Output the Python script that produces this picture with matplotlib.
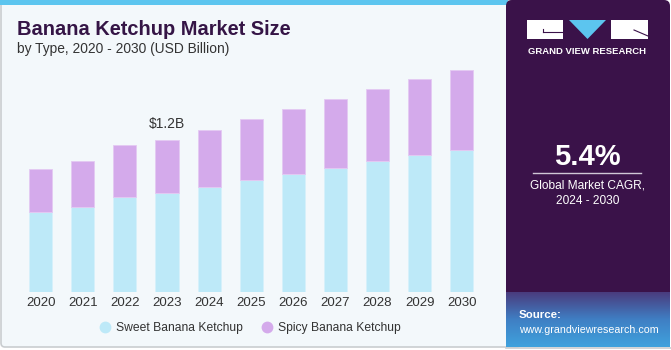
import matplotlib.pyplot as plt
import matplotlib.patches as patches
from matplotlib.lines import Line2D
from matplotlib.colors import LinearSegmentedColormap
import numpy as np

plt.rcParams['font.family'] = ['Liberation Sans', 'DejaVu Sans']

# Data (USD Billion)
years = ["2020", "2021", "2022", "2023", "2024", "2025", "2026", "2027", "2028", "2029", "2030"]
sweet = [0.63, 0.67, 0.75, 0.78, 0.83, 0.88, 0.93, 0.98, 1.03, 1.08, 1.12]
spicy = [0.34, 0.36, 0.41, 0.42, 0.45, 0.48, 0.51, 0.54, 0.57, 0.60, 0.63]
series_names = ["Sweet Banana Ketchup", "Spicy Banana Ketchup"]
series_colors = ["#bde9f8", "#d4aaeb"]
callout_year = "2023"
callout_text = "$1.2B"

W, H = 671, 350
fig = plt.figure(figsize=(W / 100, H / 100), dpi=100)
fig.patch.set_facecolor("white")

# background layer in pixel coordinates
bg = fig.add_axes([0, 0, 1, 1], zorder=0)
bg.set_xlim(0, W)
bg.set_ylim(H, 0)
bg.axis("off")

# left panel
bg.add_patch(patches.FancyBboxPatch((1, 1), 520, 346, boxstyle="round,pad=0,rounding_size=4",
                                    facecolor="#f3f8fb", edgecolor="#c9cdd0", linewidth=1.2))
bg.add_patch(patches.Rectangle((0, 0), 508, 5, facecolor="#5cc5ef", edgecolor="none"))

# right panel
bg.add_patch(patches.FancyBboxPatch((506, 0), 164, 300, boxstyle="round,pad=0,rounding_size=6",
                                    facecolor="#3a1249", edgecolor="none"))
grad = np.linspace(0, 1, 100).reshape(-1, 1)
cmap = LinearSegmentedColormap.from_list("src", ["#4a3c7e", "#3f7fc4", "#3fa2dd"])
bg.imshow(grad, cmap=cmap, aspect="auto", extent=[506, 670, 347, 292], zorder=2)
bg.plot([506, 671], [348, 348], color="#c9cdd0", lw=1.2, zorder=3)

# logo
bg.add_patch(patches.Rectangle((527, 20), 36, 19, facecolor="white", edgecolor="none", zorder=3))
bg.plot([543, 563], [32, 32], color="#3a1249", lw=0.8, zorder=4)
bg.plot([543, 543], [29, 32], color="#3a1249", lw=0.8, zorder=4)
bg.add_patch(patches.Polygon([[569, 20], [606, 20], [587.5, 39]], facecolor="#5cc5ef", edgecolor="none", zorder=3))
bg.add_patch(patches.Rectangle((611, 20), 37, 19, facecolor="white", edgecolor="none", zorder=3))
bg.plot([634, 648], [30, 36], color="#3a1249", lw=0.8, zorder=4)
bg.text(587.5, 51, "GRAND VIEW RESEARCH", color="white", fontsize=6.8, fontweight="bold",
        ha="center", va="center", zorder=4)

# CAGR block
bg.text(587.5, 165, "5.4%", color="white", fontsize=21, fontweight="bold", ha="center", va="baseline", zorder=4)
bg.plot([533, 641], [172.5, 172.5], color="#cfc6d6", lw=1, zorder=4)
bg.text(587.5, 189, "Global Market CAGR,", color="white", fontsize=8.6, ha="center", va="baseline", zorder=4)
bg.text(587.5, 204, "2024 - 2030", color="white", fontsize=8.6, ha="center", va="baseline", zorder=4)

# source
bg.text(519, 318, "Source:", color="white", fontsize=8.2, fontweight="bold", ha="left", va="baseline", zorder=4)
bg.text(519, 333, "www.grandviewresearch.com", color="white", fontsize=7.7, ha="left", va="baseline", zorder=4)

# titles
bg.text(17, 35, "Banana Ketchup Market Size", color="#351546", fontsize=14.4, fontweight="bold",
        ha="left", va="baseline")
bg.text(17, 53, "by Type, 2020 - 2030 (USD Billion)", color="#333333", fontsize=9.9,
        ha="left", va="baseline")

# chart axes
ax = fig.add_axes([19.65 / W, 58.2 / H, 463.1 / W, 228.1 / H], zorder=1)
ax.patch.set_alpha(0)
x = np.arange(len(years))
ax.bar(x, sweet, width=0.55, color=series_colors[0], edgecolor="#d6f1fb", linewidth=0.6)
ax.bar(x, spicy, width=0.55, bottom=sweet, color=series_colors[1], edgecolor="#e4c9f3", linewidth=0.6)
ax.set_xlim(-0.5, len(years) - 0.5)
ax.set_ylim(0, 1.8)
ax.set_xticks(x)
ax.set_xticklabels(years, fontsize=9.5, color="#333333")
ax.tick_params(axis="x", length=0, pad=4)
ax.set_yticks([])
for s in ax.spines.values():
    s.set_visible(False)

i = years.index(callout_year)
ax.annotate(callout_text, (x[i], sweet[i] + spicy[i]), xytext=(0, 6), textcoords="offset points",
            ha="center", va="bottom", fontsize=10, color="#333333")

handles = [Line2D([], [], marker="o", linestyle="none", markersize=8.5, markerfacecolor=c,
                  markeredgecolor="none") for c in series_colors]
fig.legend(handles, series_names, loc="center", bbox_to_anchor=(250 / W, 1 - 328 / H), ncol=2,
           frameon=False, fontsize=8.7, handletextpad=0.4, columnspacing=1.5, labelcolor="#333333",
           handlelength=1.0)

fig.savefig("out.png", dpi=100)
